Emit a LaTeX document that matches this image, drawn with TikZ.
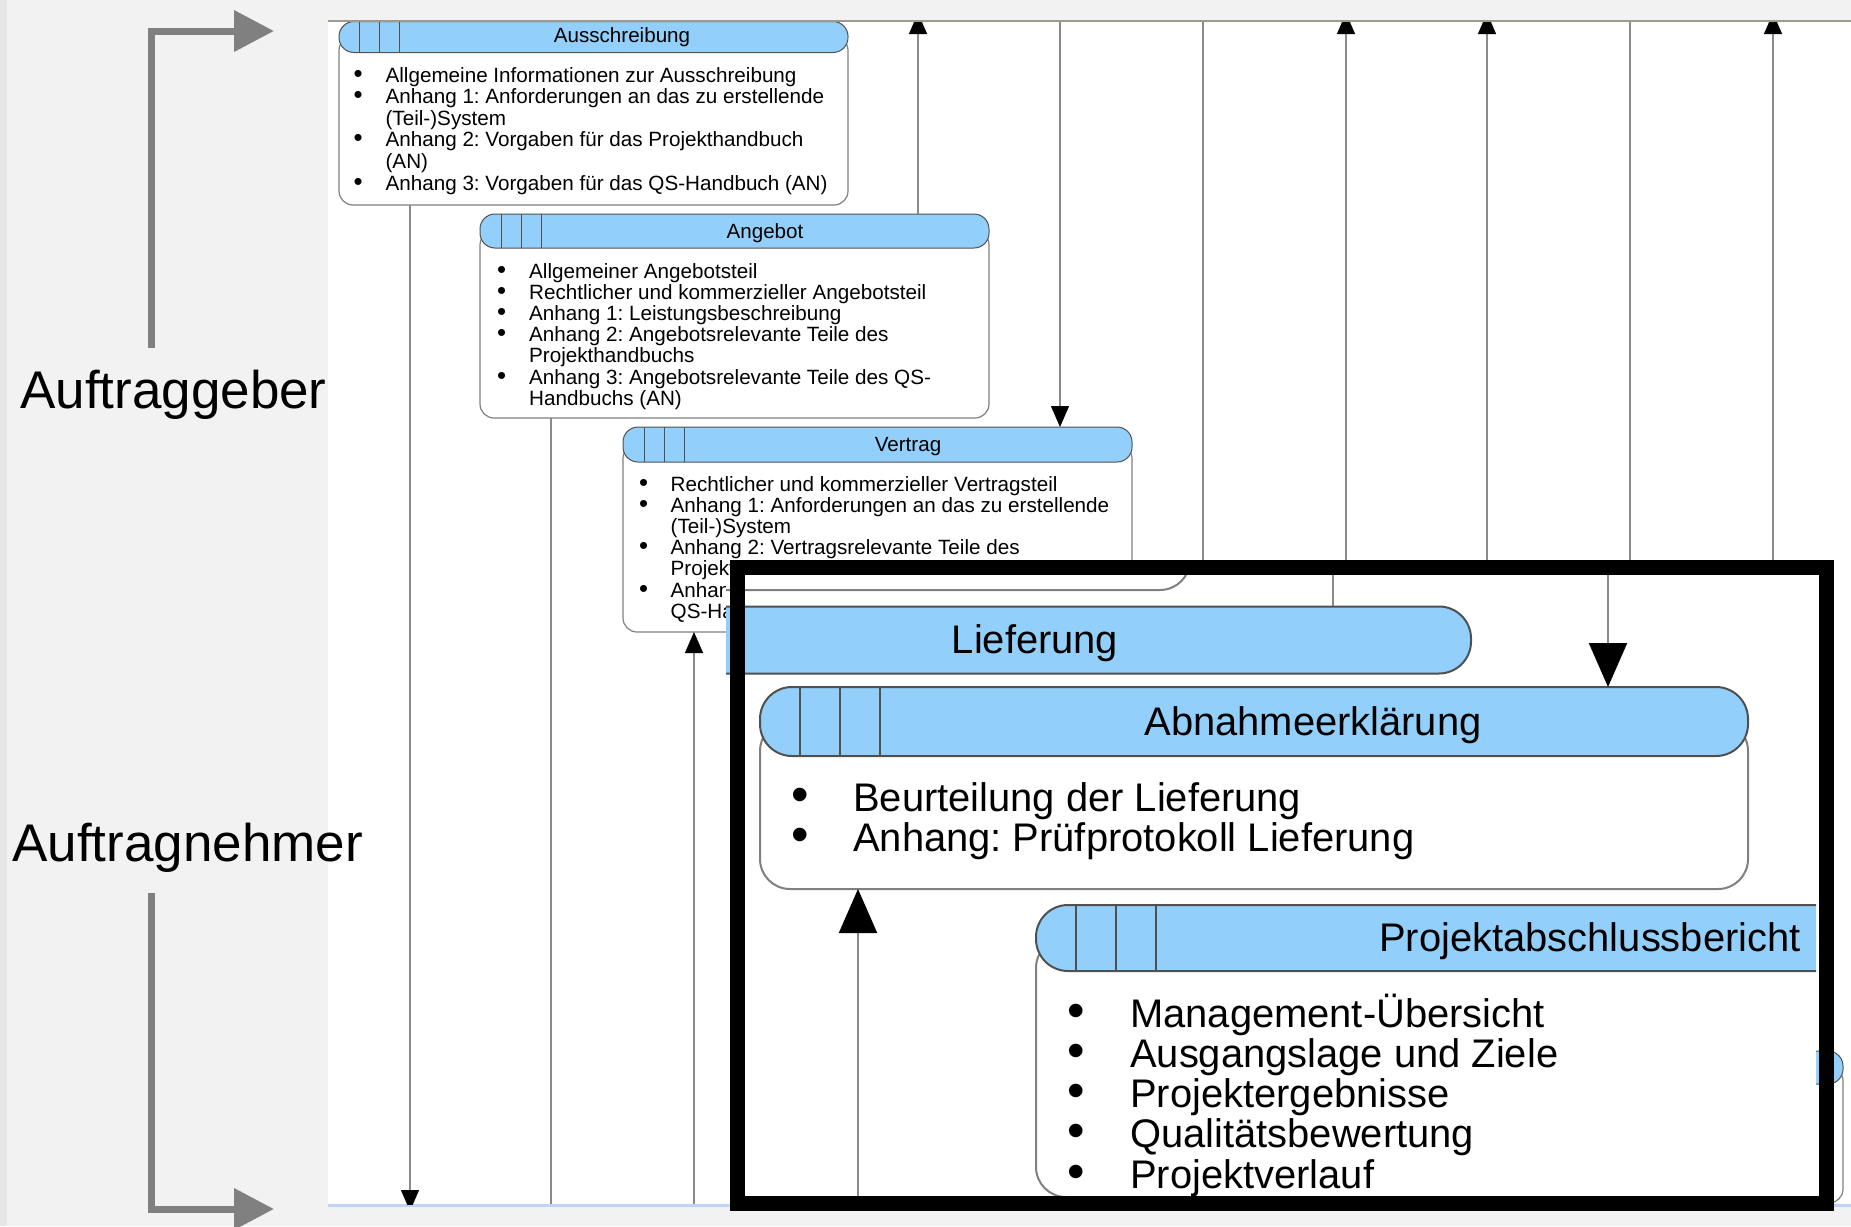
\documentclass[tikz,border=0pt]{standalone}
\usepackage{fontspec}
\usepackage{graphicx}
\setmainfont{Liberation Sans}
\frenchspacing
\usetikzlibrary{arrows.meta}
\definecolor{hdrblue}{RGB}{146,208,251}
\definecolor{bggray}{RGB}{242,242,242}
\definecolor{edgegray}{RGB}{230,230,230}
\definecolor{lifegray}{RGB}{138,138,138}
\definecolor{bodygray}{RGB}{128,128,128}
\definecolor{hdrline}{RGB}{80,80,80}
\definecolor{arrgray}{RGB}{128,128,128}
\definecolor{topline}{RGB}{155,155,145}
\definecolor{botline}{RGB}{194,212,245}
\newlength\bw
\newcommand\itm[1]{\makebox[\bw][l]{\scalebox{1.25}{\textbullet}}\smash{#1}\\}
\newcommand\cnt[1]{\makebox[\bw][l]{}\smash{#1}\\}
\tikzset{
  bodybox/.style={draw=bodygray, fill=white, line width=1.2pt, rounded corners=14pt, inner sep=0pt, outer sep=0pt, anchor=north west},
  hdrbox/.style={draw=hdrline, fill=hdrblue, line width=1pt, rounded corners=15pt, inner sep=0pt, outer sep=0pt, anchor=north west},
  magbody/.style={bodybox, line width=2pt, rounded corners=30pt},
  maghdr/.style={hdrbox, line width=2pt, rounded corners=32pt},
  sepline/.style={draw=hdrline, line width=1pt},
  magsep/.style={draw=hdrline, line width=1.6pt},
  life/.style={draw=lifegray, line width=1.2pt},
  maglife/.style={draw=lifegray, line width=2pt},
  tipd/.style={-{Triangle[width=18pt,length=21pt,color=black]}},
  bigtip/.style={-{Triangle[width=38pt,length=44pt,color=black]}},
  garrow/.style={draw=arrgray, line width=7pt, -{Triangle[width=40pt,length=40pt]}},
  ttl/.style={font=\fontsize{20.6}{24}\selectfont, anchor=base, inner sep=0pt},
  bigttl/.style={font=\fontsize{39.9}{48}\selectfont, anchor=base, inner sep=0pt},
  lst/.style={anchor=base west, inner sep=0pt},
  lbl/.style={font=\fontsize{53}{60}\selectfont, anchor=base west, inner sep=0pt},
}
\begin{document}
\begin{tikzpicture}[x=1pt,y=-1pt]
\useasboundingbox (0,0) rectangle (1851,1226);
\fill[bggray] (0,0) rectangle (1851,1226);
\fill[edgegray] (0,0) rectangle (7,1226);
\fill[white] (328,21) rectangle (1851,1204);
\draw[botline, line width=3pt] (328,1205.5) -- (1851,1205.5);

% side labels and grey arrows
\node[lbl] (agb) at (20,408) {Auftraggeber};
\node[lbl] (agn) at (12,861) {Auftragnehmer};
\coordinate (ga1s) at (151,348);
\coordinate (ga1c) at (151,31);
\coordinate (ga1e) at (274,31);
\coordinate (ga2s) at (151,893);
\coordinate (ga2c) at (151,1209);
\coordinate (ga2e) at (274,1209);
\draw[garrow] (ga1s) -- (ga1c) -- (ga1e);
\draw[garrow] (ga2s) -- (ga2c) -- (ga2e);

% original (unmagnified) diagram
\begin{scope}
\clip (328,21) rectangle (1851,1204);
% Ausschreibung
\node[bodybox, minimum width=509pt, minimum height=168.5pt] (ausB) at (339,36.5) {};
\node[hdrbox, minimum width=509pt, minimum height=31pt] (ausH) at (339,21.5) {};
\draw[sepline] (359,21.5) -- (359,52.5) (379,21.5) -- (379,52.5) (399,21.5) -- (399,52.5);
\node[ttl] (ausT) at (622,42.5) {Ausschreibung};
\node[lst] (ausL) at (353.5,82) {\fontsize{20.65}{21.6}\selectfont\setlength\bw{31.9pt}%
\begin{tabular}[t]{@{}l@{}}
\itm{Allgemeine Informationen zur Ausschreibung}
\itm{Anhang 1: Anforderungen an das zu erstellende}
\cnt{(Teil-)System}
\itm{Anhang 2: Vorgaben f\"ur das Projekthandbuch}
\cnt{(AN)}
\itm{Anhang 3: Vorgaben f\"ur das QS-Handbuch (AN)}
\end{tabular}};
% Angebot
\node[bodybox, minimum width=509pt, minimum height=187pt] (angB) at (480,231) {};
\node[hdrbox, minimum width=509pt, minimum height=34pt] (angH) at (480,214) {};
\draw[sepline] (501,214) -- (501,248) (521,214) -- (521,248) (541,214) -- (541,248);
\node[ttl] (angT) at (765,238) {Angebot};
\node[lst] (angL) at (496.8,278) {\fontsize{20.65}{21.2}\selectfont\setlength\bw{32.2pt}%
\begin{tabular}[t]{@{}l@{}}
\itm{Allgemeiner Angebotsteil}
\itm{Rechtlicher und kommerzieller Angebotsteil}
\itm{Anhang 1: Leistungsbeschreibung}
\itm{Anhang 2: Angebotsrelevante Teile des}
\cnt{Projekthandbuchs}
\itm{Anhang 3: Angebotsrelevante Teile des QS-}
\cnt{Handbuchs (AN)}
\end{tabular}};
% Vertrag
\node[bodybox, minimum width=509pt, minimum height=187.5pt] (verB) at (623,444.5) {};
\node[hdrbox, minimum width=509pt, minimum height=35pt] (verH) at (623,427) {};
\draw[sepline] (644,427) -- (644,462) (664,427) -- (664,462) (684,427) -- (684,462);
\node[ttl] (verT) at (908,451.5) {Vertrag};
\node[lst] (verL) at (639,491) {\fontsize{20.65}{21.2}\selectfont\setlength\bw{31.5pt}%
\begin{tabular}[t]{@{}l@{}}
\itm{Rechtlicher und kommerzieller Vertragsteil}
\itm{Anhang 1: Anforderungen an das zu erstellende}
\cnt{(Teil-)System}
\itm{Anhang 2: Vertragsrelevante Teile des}
\cnt{Projekthandbuchs}
\itm{Anhang 3: Vertragsrelevante Teile des}
\cnt{QS-Handbuchs (AN)}
\end{tabular}};
% box at the right edge
\node[bodybox, minimum width=509pt, minimum height=136pt] (rbB) at (1334,1067) {};
\node[hdrbox, minimum width=509pt, minimum height=33pt] (rbH) at (1334,1051) {};

% lifelines
\coordinate (x1) at (410,0);
\coordinate (x2) at (551,0);
\coordinate (x3) at (694,0);
\coordinate (x4) at (918,0);
\coordinate (x5) at (1060,0);
\coordinate (b1) at (410,1211);
\coordinate (b2) at (551,1204);
\coordinate (b3) at (694,1204);
\coordinate (t4) at (918,13);
\coordinate (t5) at (1060,21);
\coordinate (t6) at (1203,21);
\coordinate (m6) at (1203,575);
\coordinate (t7) at (1346,13);
\coordinate (m7) at (1346,575);
\coordinate (t8) at (1487,13);
\coordinate (m8) at (1487,575);
\coordinate (t9) at (1630,21);
\coordinate (m9) at (1630,575);
\coordinate (t10) at (1773,13);
\coordinate (m10) at (1773,575);
\draw[life,tipd] (ausB.south -| x1) -- (b1);
\draw[life] (angB.south -| x2) -- (b2);
\draw[life,tipd] (b3) -- (verB.south -| x3);
\draw[life,tipd] (angH.north -| x4) -- (t4);
\draw[life,tipd] (t5) -- (verH.north -| x5);
\draw[life] (t6) -- (m6);
\draw[life,tipd] (m7) -- (t7);
\draw[life,tipd] (m8) -- (t8);
\draw[life] (t9) -- (m9);
\draw[life,tipd] (m10) -- (t10);
\end{scope}
\draw[topline, line width=1.5pt] (328,21) -- (1851,21);

% magnified inset
\fill[white] (726,575) rectangle (1816,1196);
\begin{scope}
\clip (726,575) rectangle (1816,1196);
\node[magbody, minimum width=600pt, minimum height=300pt, anchor=south east] (verM) at (1190,590) {};
\coordinate (c1) at (1333,560);
\coordinate (c2) at (1608,560);
\coordinate (c3) at (858,1215);
\draw[maglife] (c1) -- (1333,607);
\node[maghdr, minimum width=992pt, minimum height=67pt] (liefH) at (479,606.5) {};
\node[bigttl] (liefT) at (1035,653) {Lieferung};
% Abnahmeerklaerung
\node[magbody, minimum width=988pt, minimum height=168pt] (abnB) at (760,721) {};
\node[maghdr, minimum width=988pt, minimum height=69pt] (abnH) at (760,687) {};
\draw[magsep] (800,687) -- (800,756) (840,687) -- (840,756) (880,687) -- (880,756);
\node[bigttl] (abnT) at (1313,735) {Abnahmeerkl\"arung};
\node[lst] (abnL) at (791,811) {\fontsize{39.9}{40}\selectfont\setlength\bw{62pt}%
\begin{tabular}[t]{@{}l@{}}
\itm{Beurteilung der Lieferung}
\itm{Anhang: Pr\"ufprotokoll Lieferung}
\end{tabular}};
% Projektabschlussbericht
\node[magbody, minimum width=988pt, minimum height=259pt] (pabB) at (1036,938) {};
\node[maghdr, minimum width=988pt, minimum height=66pt] (pabH) at (1036,905) {};
\draw[magsep] (1076,905) -- (1076,971) (1116,905) -- (1116,971) (1156,905) -- (1156,971);
\node[bigttl] (pabT) at (1590,951) {Projektabschlussbericht};
\node[lst] (pabL) at (1067,1027) {\fontsize{39.9}{40.3}\selectfont\setlength\bw{63pt}%
\begin{tabular}[t]{@{}l@{}}
\itm{Management-\"Ubersicht}
\itm{Ausgangslage und Ziele}
\itm{Projektergebnisse}
\itm{Qualit\"atsbewertung}
\itm{Projektverlauf}
\end{tabular}};
\draw[maglife,bigtip] (c2) -- (abnH.north -| c2);
\draw[maglife,bigtip] (c3) -- (abnB.south -| c3);
\end{scope}
\draw[line width=15pt, black] (737.5,567.5) rectangle (1826.5,1203.5);
\end{tikzpicture}
\end{document}
